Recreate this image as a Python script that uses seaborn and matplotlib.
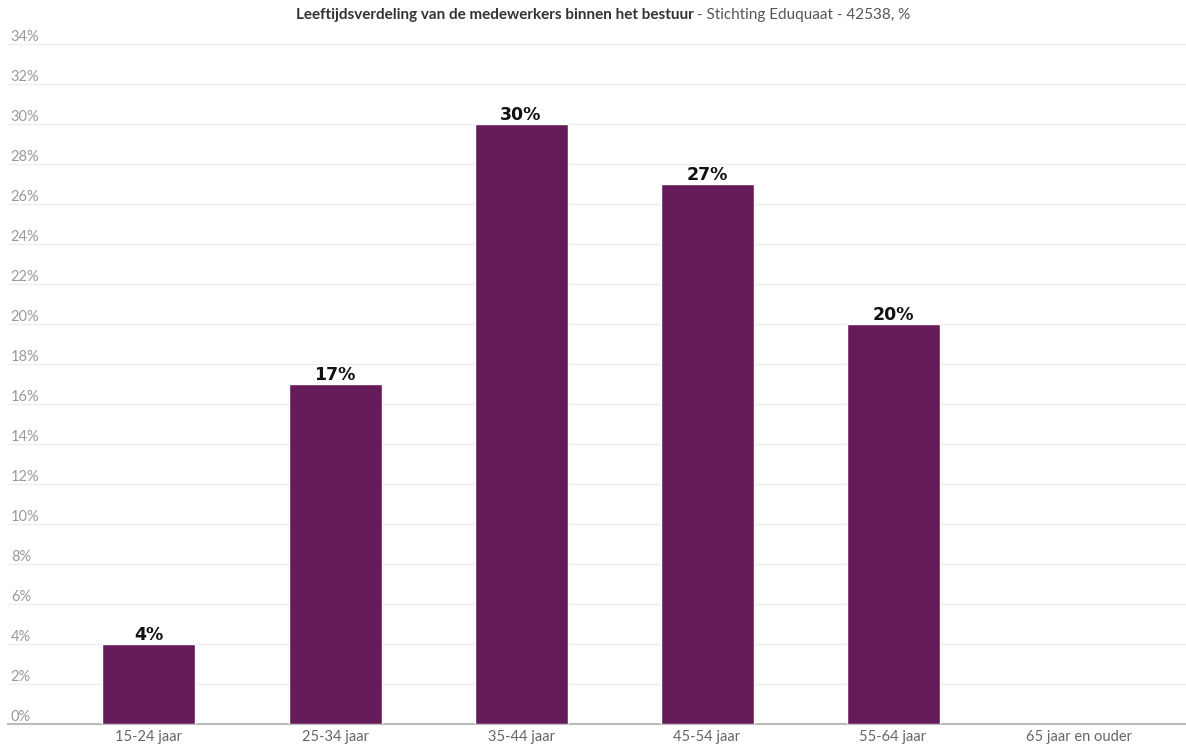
import numpy as np
import pandas as pd
import matplotlib
matplotlib.use("Agg")
import matplotlib.pyplot as plt
import seaborn as sns

## Data
categories = ["15-24 jaar", "25-34 jaar", "35-44 jaar", "45-54 jaar", "55-64 jaar", "65 jaar en ouder"]
percentages = [4, 17, 30, 27, 20, np.nan]
yticks = list(range(0, 36, 2))

df = pd.DataFrame({"leeftijd": categories, "pct": percentages})

sns.set_style("white")
plt.rcParams["font.family"] = ["Lato", "DejaVu Sans"]

fig = plt.figure(figsize=(11.86, 7.44), dpi=100)
ax = fig.add_axes([8 / 1186, 20 / 744, 1178 / 1186, 680 / 744])

sns.barplot(data=df, x="leeftijd", y="pct", order=categories, color="#651b59",
            width=0.5, saturation=1, ax=ax, zorder=3)

ax.set_xlim(-0.758, 5.575)
ax.set_ylim(0, 34)
ax.set_yticks(yticks)
ax.set_yticklabels([f"{t}%" for t in yticks])
ax.grid(axis="y", color="#eeeeee", linewidth=1, zorder=0)
ax.set_xlabel("")
ax.set_ylabel("")

for s in ["top", "right", "left"]:
    ax.spines[s].set_visible(False)
ax.spines["bottom"].set_color("#bbbbbb")
ax.spines["bottom"].set_linewidth(1.5)

ax.tick_params(axis="y", length=0, pad=-2, labelsize=10.5, labelcolor="#999999")
for lbl in ax.get_yticklabels():
    lbl.set_horizontalalignment("left")
    lbl.set_verticalalignment("bottom")
ax.tick_params(axis="x", length=0, pad=4, labelsize=10.5, labelcolor="#666666")

# value labels
for i, v in enumerate(percentages):
    if not np.isnan(v):
        ax.text(i, v + 0.02, f"{v:.0f}%", ha="center", va="bottom",
                fontsize=12.5, fontweight="bold", family="DejaVu Sans", color="#111111")

# title in two parts
t1 = fig.text(0.5, 1 - 15 / 744, "Leeftijdsverdeling van de medewerkers binnen het bestuur",
              ha="left", va="center", fontsize=11, fontweight="bold", color="#333333")
t2 = fig.text(0.5, 1 - 15 / 744, " - Stichting Eduquaat - 42538, %",
              ha="left", va="center", fontsize=11, color="#555555")
fig.canvas.draw()
r = fig.canvas.get_renderer()
w1 = t1.get_window_extent(r).width
w2 = t2.get_window_extent(r).width
start = 603 - (w1 + w2) / 2
t1.set_x(start / 1186)
t2.set_x((start + w1) / 1186)

fig.savefig("out.png", dpi=100)
